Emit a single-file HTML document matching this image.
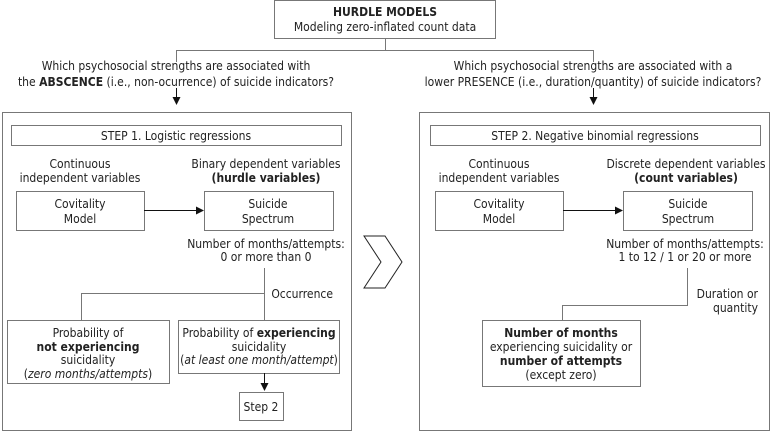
<!DOCTYPE html>
<html><head><meta charset="utf-8"><style>
html,body{margin:0;padding:0;background:#fff;}
svg text{font-family:"DejaVu Sans Condensed","DejaVu Sans",sans-serif;font-size:12px;fill:#222;}
.b{font-weight:bold;}
</style></head><body>
<svg width="771" height="432" viewBox="0 0 771 432" xmlns="http://www.w3.org/2000/svg">
<defs><marker id="a" markerWidth="8" markerHeight="8" refX="7" refY="4" orient="auto" markerUnits="userSpaceOnUse"><path d="M0,0 L8,4 L0,8z" fill="#111"/></marker></defs>
<g fill="none" stroke="#777" stroke-width="1">
<rect x="274.5" y="0.5" width="221" height="38"/>
<path d="M385.5 38 V50.5 M176.5 62 V50.5 H593.5 V62"/>
<rect x="2.5" y="112.5" width="349" height="318"/>
<rect x="11.5" y="125.5" width="330" height="20"/>
<rect x="16.5" y="191.5" width="128" height="39"/>
<rect x="204.5" y="191.5" width="129" height="39"/>
<path d="M264.5 268 V320 M81.5 320 V293.5 H264.5"/>
<rect x="7.5" y="320.5" width="162" height="63"/>
<rect x="178.5" y="320.5" width="161" height="53"/>
<rect x="239.5" y="392.5" width="44" height="28"/>
<rect x="419.5" y="112.5" width="350" height="318"/>
<rect x="430.5" y="125.5" width="330" height="20"/>
<rect x="435.5" y="191.5" width="128" height="39"/>
<rect x="623.5" y="191.5" width="129" height="39"/>
<path d="M687.5 268 V305.5 H562.5 V320"/>
<rect x="482.5" y="320.5" width="158" height="66"/>
</g>
<g stroke="#111" stroke-width="1" fill="none">
<path d="M176.5 88 V104" marker-end="url(#a)"/>
<path d="M593.5 88 V104" marker-end="url(#a)"/>
<path d="M144 210.5 H203" marker-end="url(#a)"/>
<path d="M563 210.5 H622" marker-end="url(#a)"/>
<path d="M264.5 373 V390" marker-end="url(#a)"/>
<path d="M364 236 H385 L402 262 L385 288 H364 L381 262 Z" stroke="#222"/>
</g>
<g text-anchor="middle">
<text x="385" y="16" class="b">HURDLE MODELS</text>
<text x="385" y="31">Modeling zero-inflated count data</text>
<text x="176" y="70">Which psychosocial strengths are associated with</text>
<text x="176" y="86">the <tspan class="b">ABSCENCE</tspan> (i.e., non-ocurrence) of suicide indicators?</text>
<text x="593" y="70">Which psychosocial strengths are associated with a</text>
<text x="593" y="86">lower PRESENCE (i.e., duration/quantity) of suicide indicators?</text>
<text x="176" y="140">STEP 1. Logistic regressions</text>
<text x="80" y="168">Continuous</text>
<text x="80" y="182">independent variables</text>
<text x="266" y="168">Binary dependent variables</text>
<text x="266" y="182" class="b">(hurdle variables)</text>
<text x="80" y="208">Covitality</text>
<text x="80" y="223">Model</text>
<text x="268" y="208">Suicide</text>
<text x="268" y="223">Spectrum</text>
<text x="266" y="248">Number of months/attempts:</text>
<text x="266" y="261">0 or more than 0</text>
<text x="88" y="337">Probability of</text>
<text x="88" y="351" class="b">not experiencing</text>
<text x="88" y="364">suicidality</text>
<text x="88" y="378">(<tspan font-style="italic">zero months/attempts</tspan>)</text>
<text x="259" y="337">Probability of <tspan class="b">experiencing</tspan></text>
<text x="259" y="351">suicidality</text>
<text x="259" y="364">(<tspan font-style="italic">at least one month/attempt</tspan>)</text>
<text x="261" y="411">Step 2</text>
<text x="595" y="140">STEP 2. Negative binomial regressions</text>
<text x="499" y="168">Continuous</text>
<text x="499" y="182">independent variables</text>
<text x="686" y="168">Discrete dependent variables</text>
<text x="686" y="182" class="b">(count variables)</text>
<text x="499" y="208">Covitality</text>
<text x="499" y="223">Model</text>
<text x="688" y="208">Suicide</text>
<text x="688" y="223">Spectrum</text>
<text x="685" y="248">Number of months/attempts:</text>
<text x="685" y="261">1 to 12 / 1 or 20 or more</text>
<text x="561" y="337" class="b">Number of months</text>
<text x="561" y="351">experiencing suicidality or</text>
<text x="561" y="365" class="b">number of attempts</text>
<text x="561" y="379">(except zero)</text>
</g>
<g text-anchor="end">
<text x="333" y="298">Occurrence</text>
<text x="758" y="298">Duration or</text>
<text x="758" y="312">quantity</text>
</g>
</svg>
</body></html>
